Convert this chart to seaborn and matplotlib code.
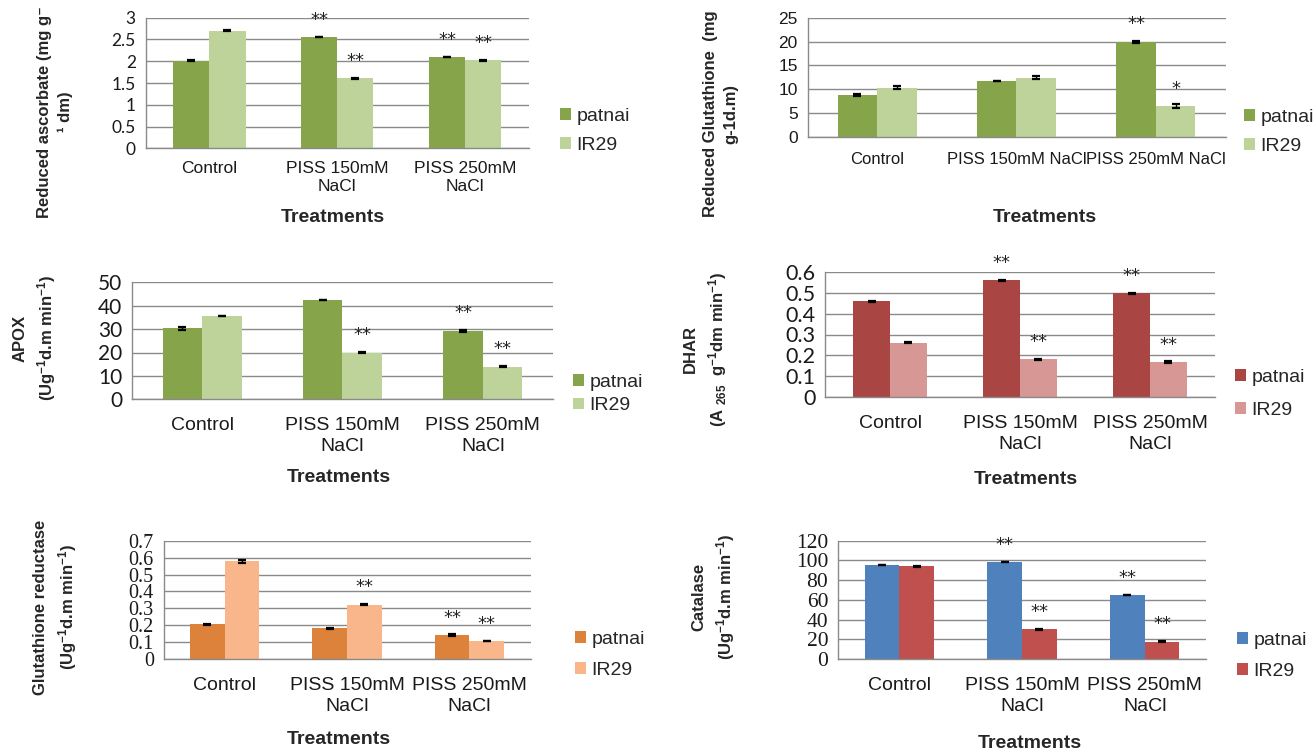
import matplotlib
matplotlib.use("Agg")
import matplotlib.pyplot as plt
from matplotlib.ticker import FuncFormatter, FixedLocator
import pandas as pd
import seaborn as sns

# ---------------------------------------------------------------- data
treatments = ["Control", "PISS 150mM NaCl", "PISS 250mM NaCl"]
treatment_labels = ["Control", "PISS 150mM\nNaCl", "PISS 250mM\nNaCl"]
cultivars = ["patnai", "IR29"]

# Reduced ascorbate
asa_patnai = [2.01, 2.56, 2.10]
asa_ir29 = [2.70, 1.61, 2.02]
asa_err_patnai = [0.010, 0.008, 0.008]
asa_err_ir29 = [0.006, 0.015, 0.018]
asa_sig_patnai = ["", "**", "**"]
asa_sig_ir29 = ["", "**", "**"]

# Reduced glutathione
gsh_patnai = [8.75, 11.7, 19.95]
gsh_ir29 = [10.3, 12.4, 6.45]
gsh_err_patnai = [0.20, 0.08, 0.18]
gsh_err_ir29 = [0.25, 0.25, 0.35]
gsh_sig_patnai = ["", "", "**"]
gsh_sig_ir29 = ["", "", "*"]

# APOX
apox_patnai = [30.3, 42.4, 29.3]
apox_ir29 = [35.6, 20.0, 14.0]
apox_err_patnai = [0.6, 0.15, 0.35]
apox_err_ir29 = [0.20, 0.10, 0.15]
apox_sig_patnai = ["", "", "**"]
apox_sig_ir29 = ["", "**", "**"]

# DHAR
dhar_patnai = [0.460, 0.562, 0.498]
dhar_ir29 = [0.260, 0.180, 0.166]
dhar_err_patnai = [0.003, 0.002, 0.003]
dhar_err_ir29 = [0.003, 0.002, 0.004]
dhar_sig_patnai = ["", "**", "**"]
dhar_sig_ir29 = ["", "**", "**"]

# Glutathione reductase
gr_patnai = [0.207, 0.183, 0.142]
gr_ir29 = [0.577, 0.322, 0.107]
gr_err_patnai = [0.003, 0.003, 0.003]
gr_err_ir29 = [0.007, 0.003, 0.002]
gr_sig_patnai = ["", "", "**"]
gr_sig_ir29 = ["", "**", "**"]

# Catalase
cat_patnai = [95.3, 98.4, 65.0]
cat_ir29 = [93.9, 30.2, 17.6]
cat_err_patnai = [0.3, 0.3, 0.3]
cat_err_ir29 = [0.4, 0.3, 0.6]
cat_sig_patnai = ["", "**", "**"]
cat_sig_ir29 = ["", "**", "**"]

# ---------------------------------------------------------------- style
sns.set_theme(style="white")
plt.rcParams["font.family"] = ["Liberation Sans", "DejaVu Sans"]
plt.rcParams["mathtext.fontset"] = "custom"
plt.rcParams["mathtext.rm"] = "Liberation Sans"
plt.rcParams["mathtext.bf"] = "Liberation Sans:bold"
plt.rcParams["mathtext.it"] = "Liberation Sans:italic"

W, H = 1315, 753
fig = plt.figure(figsize=(W / 100, H / 100), dpi=100)
fig.patch.set_facecolor("white")

GRID = "#8a8a8a"
UNIT = r"(Ug$^{\mathbf{-1}}$d.m min$^{\mathbf{-1}}$)"


def draw_panel(box, patnai, ir29, err_p, err_i, sig_p, sig_i, ymax, ystep,
               colors, ylabel, ylabel_xy, xlabel_xy, legend_xy, labelspacing,
               tick_font, tick_size, xtick_size, xlabels, xpad, ylabel_size=12):
    x0, x1, ytop, ybot = box
    ax = fig.add_axes([x0 / W, 1 - ybot / H, (x1 - x0) / W, (ybot - ytop) / H])
    df = pd.DataFrame({
        "Treatment": treatments * 2,
        "Cultivar": [cultivars[0]] * 3 + [cultivars[1]] * 3,
        "Value": list(patnai) + list(ir29),
    })
    sns.barplot(data=df, x="Treatment", y="Value", hue="Cultivar",
                order=treatments, hue_order=cultivars, palette=colors,
                width=0.565, gap=0, errorbar=None, saturation=1,
                linewidth=0, edgecolor="none", ax=ax)

    # error bars and significance marks placed on the drawn bars
    for container, errs, sigs in zip(ax.containers, [err_p, err_i], [sig_p, sig_i]):
        xs = [b.get_x() + b.get_width() / 2 for b in container]
        hs = [b.get_height() for b in container]
        ax.errorbar(xs, hs, yerr=errs, fmt="none", ecolor="black",
                    elinewidth=1.0, capsize=3.2, capthick=1.6, zorder=5)
        for x, h, s in zip(xs, hs, sigs):
            if s:
                ax.annotate(s, (x, h), xytext=(0, 6), textcoords="offset points",
                            ha="center", va="bottom", fontsize=13,
                            family="DejaVu Sans", color="#222222")

    ax.set_xlim(-0.5, 2.5)
    ax.set_ylim(0, ymax)
    ax.set_yticks([i * ystep for i in range(int(round(ymax / ystep)) + 1)])
    ax.yaxis.set_major_formatter(FuncFormatter(lambda v, _: f"{v:g}"))
    ax.yaxis.grid(True, color=GRID, linewidth=1.0)
    ax.set_axisbelow(True)
    for side in ("top", "right"):
        ax.spines[side].set_visible(False)
    for side in ("left", "bottom"):
        ax.spines[side].set_color(GRID)
        ax.spines[side].set_linewidth(1.0)

    ax.set_xticks([0, 1, 2])
    ax.set_xticklabels(xlabels, linespacing=1.3)
    ax.xaxis.set_minor_locator(FixedLocator([-0.5, 0.5, 1.5, 2.5]))
    ax.tick_params(axis="x", which="major", length=0, pad=xpad, labelsize=xtick_size,
                   labelcolor="#1a1a1a")
    ax.tick_params(axis="x", which="minor", length=5, width=1, color=GRID, direction="out")
    ax.tick_params(axis="y", length=4, width=1, color=GRID, direction="out", pad=3,
                   labelsize=tick_size, labelcolor="#1a1a1a")
    for lab in ax.get_yticklabels():
        lab.set_family(tick_font)
    ax.set_xlabel("")
    ax.set_ylabel("")

    handles, labels = ax.get_legend_handles_labels()
    ax.legend(handles, labels, loc="center left",
              bbox_to_anchor=(legend_xy[0] / W, 1 - legend_xy[1] / H),
              bbox_transform=fig.transFigure, frameon=False, borderpad=0,
              borderaxespad=0, handlelength=0.55, handleheight=0.55,
              handletextpad=0.3, labelspacing=labelspacing, fontsize=14)

    fig.text(ylabel_xy[0] / W, 1 - ylabel_xy[1] / H, ylabel, rotation=90,
             ha="center", va="center", fontsize=ylabel_size, fontweight="bold",
             linespacing=1.45, multialignment="center")
    fig.text(xlabel_xy[0] / W, 1 - xlabel_xy[1] / H, "Treatments",
             ha="center", va="center", fontsize=14, fontweight="bold")
    return ax


GREENS = ["#86A44A", "#BDD39A"]
REDS = ["#A94543", "#D69795"]
ORANGES = ["#DD823B", "#F8B68A"]
BLUE_RED = ["#4F81BD", "#C0504D"]

draw_panel((145.5, 529, 17.7, 148.3), asa_patnai, asa_ir29, asa_err_patnai, asa_err_ir29,
           asa_sig_patnai, asa_sig_ir29, 3, 0.5, GREENS,
           "Reduced ascorbate (mg g\u207b\n\u00b9 dm)", (55, 112), (333, 217), (560, 131), 0.6,
           ["Lato"], 12.5, 12.5, treatment_labels, 9)

draw_panel((807.5, 1225.5, 17.7, 136.7), gsh_patnai, gsh_ir29, gsh_err_patnai, gsh_err_ir29,
           gsh_sig_patnai, gsh_sig_ir29, 25, 5, GREENS,
           "Reduced Glutathione  (mg\ng-1d.m)", (721, 114), (1045, 218), (1244, 132), 0.6,
           ["Liberation Sans"], 12.5, 12, treatments, 11)

draw_panel((132, 553, 282.3, 399.3), apox_patnai, apox_ir29, apox_err_patnai, apox_err_ir29,
           apox_sig_patnai, apox_sig_ir29, 50, 10, GREENS,
           "APOX\n" + UNIT, (35, 338), (339, 478), (573, 394), 0.35,
           ["Lato"], 15, 14, treatment_labels, 13)

draw_panel((825, 1215, 272.3, 396.7), dhar_patnai, dhar_ir29, dhar_err_patnai, dhar_err_ir29,
           dhar_sig_patnai, dhar_sig_ir29, 0.6, 0.1, REDS,
           "DHAR\n" + r"(A $_{\mathbf{265}}$  g$^{\mathbf{-1}}$dm min$^{\mathbf{-1}}$)",
           (706, 349), (1026, 480), (1235, 394), 0.8,
           ["Lato"], 15.5, 14, treatment_labels, 13)

draw_panel((163.5, 530.5, 540.7, 659), gr_patnai, gr_ir29, gr_err_patnai, gr_err_ir29,
           gr_sig_patnai, gr_sig_ir29, 0.7, 0.1, ORANGES,
           "Glutathione reductase\n" + UNIT, (56, 607), (339, 740), (575, 655), 0.7,
           ["Liberation Serif"], 14.5, 14, treatment_labels, 13)

draw_panel((838, 1206, 540.7, 659), cat_patnai, cat_ir29, cat_err_patnai, cat_err_ir29,
           cat_sig_patnai, cat_sig_ir29, 120, 20, BLUE_RED,
           "Catalase\n" + UNIT, (714, 597), (1030, 743), (1237, 656), 0.7,
           ["Liberation Serif"], 15.5, 14, treatment_labels, 13)

fig.savefig("out.png", dpi=100, facecolor="white")
